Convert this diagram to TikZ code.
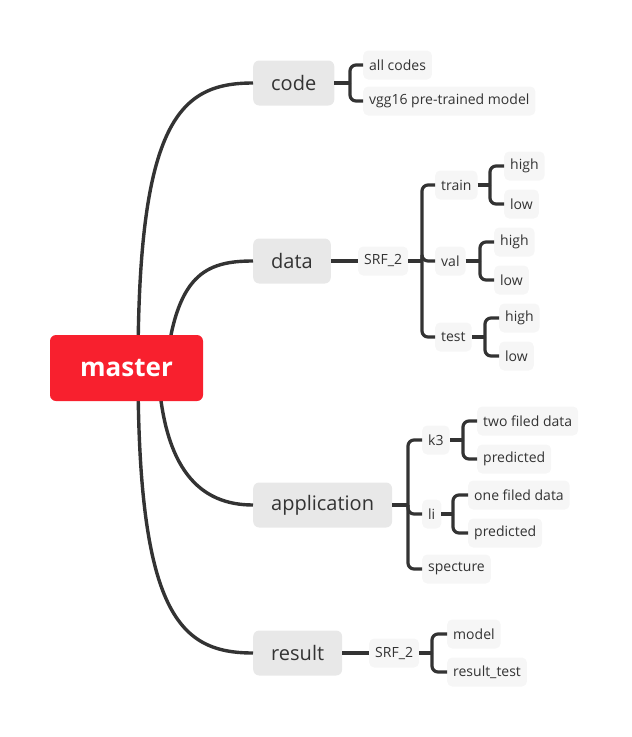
\documentclass[tikz,border=0pt]{standalone}
\usepackage{fontspec}
\setmainfont{Open Sans}
\usetikzlibrary{calc,positioning}
\definecolor{masterred}{HTML}{F8202E}
\definecolor{topicgray}{HTML}{E8E8E8}
\definecolor{leafgray}{HTML}{F6F6F6}
\definecolor{ink}{HTML}{333333}

\begin{document}
\begin{tikzpicture}[x=1pt,y=-1pt,
	root/.style={rectangle,rounded corners=6pt,fill=masterred,text=white,font=\fontsize{26}{31}\selectfont\bfseries,minimum width=153pt,minimum height=66pt},
	topic/.style={rectangle,rounded corners=6pt,fill=topicgray,text=ink,font=\fontsize{20}{24}\selectfont,minimum height=45pt,inner xsep=18pt,anchor=west},
	leaf/.style={rectangle,rounded corners=5pt,fill=leafgray,text=ink,font=\fontsize{14}{17}\selectfont,minimum height=29pt,inner xsep=6pt,anchor=west},
	branch/.style={draw=ink,line width=3.4pt},
	brace/.style={draw=ink,line width=3.2pt,rounded corners=6pt}
	]
	\useasboundingbox (0,0) rectangle (632,737);

	\node[topic] (code) at (253,83) {code};
	\node[topic] (data) at (253,261) {data};
	\node[topic] (app) at (253,505) {application};
	\node[topic] (result) at (253,653) {result};

	\coordinate (m1) at (138,368);
	\coordinate (m2) at (166,368);
	\coordinate (m3) at (158,368);
	\coordinate (m4) at (138,368);
	\draw[branch] (m1) .. controls (138,120) and (180,83) .. (code.west);
	\draw[branch] (m2) .. controls (176,275) and (205,261) .. (data.west);
	\draw[branch] (m3) .. controls (163,470) and (200,505) .. (app.west);
	\draw[branch] (m4) .. controls (138,615) and (180,653) .. (result.west);

	\node[root] (master) at (126.5,368) {master};

	\node[leaf] (allc) at (363,65) {all codes};
	\node[leaf] (vgg) at (363,101) {vgg16 pre-trained model};
	\coordinate (codej) at (350,83);
	\draw[branch] (code.east) -- (codej);
	\foreach \c in {allc,vgg} {
			\draw[brace] (codej) |- (\c.west);
		}

	\node[leaf] (srfa) at (358,261) {SRF\_2};
	\draw[branch] (data.east) -- (srfa.west);
	\coordinate (srfaj) at (422,261);
	\draw[branch] (srfa.east) -- (srfaj);
	\node[leaf] (train) at (435,185) {train};
	\node[leaf] (val) at (435,261) {val};
	\node[leaf] (test) at (435,337) {test};
	\foreach \c in {train,val,test} {
			\draw[brace] (srfaj) |- (\c.west);
		}

	\node[leaf] (trh) at (504,166) {high};
	\node[leaf] (trl) at (504,204) {low};
	\node[leaf] (vah) at (494,242) {high};
	\node[leaf] (val2) at (494,280) {low};
	\node[leaf] (teh) at (499,318) {high};
	\node[leaf] (tel) at (499,356) {low};
	\coordinate (trj) at (490,185);
	\coordinate (vaj) at (480,261);
	\coordinate (tej) at (485,337);
	\draw[branch] (train.east) -- (trj);
	\draw[branch] (val.east) -- (vaj);
	\draw[branch] (test.east) -- (tej);
	\foreach \c in {trh,trl} {\draw[brace] (trj) |- (\c.west);}
	\foreach \c in {vah,val2} {\draw[brace] (vaj) |- (\c.west);}
	\foreach \c in {teh,tel} {\draw[brace] (tej) |- (\c.west);}

	\coordinate (appj) at (408,505);
	\draw[branch] (app.east) -- (appj);
	\node[leaf] (kthree) at (422,440) {k3};
	\node[leaf] (li) at (422,514) {li};
	\node[leaf] (spec) at (422,569) {specture};
	\foreach \c in {kthree,li,spec} {
			\draw[brace] (appj) |- (\c.west);
		}

	\node[leaf] (ktwo) at (477,421) {two filed data};
	\node[leaf] (kpred) at (477,459) {predicted};
	\node[leaf] (lione) at (468,495) {one filed data};
	\node[leaf] (lipred) at (468,533) {predicted};
	\coordinate (kj) at (463,440);
	\coordinate (lj) at (453,514);
	\draw[branch] (kthree.east) -- (kj);
	\draw[branch] (li.east) -- (lj);
	\foreach \c in {ktwo,kpred} {\draw[brace] (kj) |- (\c.west);}
	\foreach \c in {lione,lipred} {\draw[brace] (lj) |- (\c.west);}

	\node[leaf] (srfb) at (369,653) {SRF\_2};
	\draw[branch] (result.east) -- (srfb.west);
	\coordinate (srfbj) at (432,653);
	\draw[branch] (srfb.east) -- (srfbj);
	\node[leaf] (model) at (447,634) {model};
	\node[leaf] (rtest) at (447,672) {result\_test};
	\foreach \c in {model,rtest} {
			\draw[brace] (srfbj) |- (\c.west);
		}

\end{tikzpicture}
\end{document}
